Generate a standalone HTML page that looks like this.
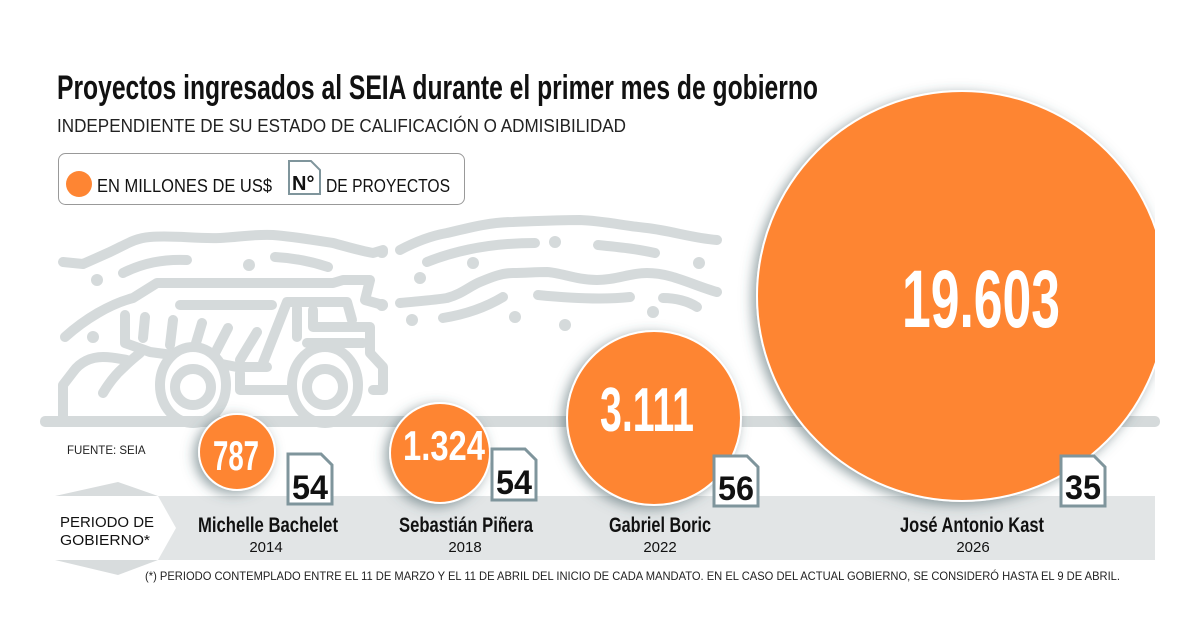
<!DOCTYPE html>
<html><head><meta charset="utf-8"><style>
body{margin:0;background:#fff}
svg{display:block}
.c{font-family:"Liberation Sans Narrow","Liberation Sans",sans-serif;font-weight:bold}
.s{font-family:"Liberation Sans",sans-serif}
</style></head><body>
<svg width="1200" height="632" viewBox="0 0 1200 632">
<defs>
<filter id="sh2" x="-30%" y="-30%" width="160%" height="160%"><feGaussianBlur in="SourceAlpha" stdDeviation="6" result="b"/><feOffset dx="-4" dy="3" in="b" result="o"/><feFlood flood-color="#3f5a60" flood-opacity="0.55"/><feComposite in2="o" operator="in"/><feMerge><feMergeNode/><feMergeNode in="SourceGraphic"/></feMerge></filter>
<clipPath id="cl"><rect x="0" y="0" width="1155" height="632"/></clipPath>
</defs>
<text x="57" y="99" class="c" font-size="34" fill="#111" textLength="761" lengthAdjust="spacingAndGlyphs">Proyectos ingresados al SEIA durante el primer mes de gobierno</text>
<text x="57" y="132" class="s" font-size="18" fill="#222" textLength="569" lengthAdjust="spacingAndGlyphs">INDEPENDIENTE DE SU ESTADO DE CALIFICACIÓN O ADMISIBILIDAD</text>
<rect x="58.5" y="153.5" width="406" height="51" rx="7" fill="#fff" stroke="#999"/>
<circle cx="79" cy="184" r="13" fill="#fe8533"/>
<text x="97" y="192" class="s" font-size="18" fill="#111" textLength="175" lengthAdjust="spacingAndGlyphs">EN MILLONES DE US$</text>
<path d="M289 161h22l9 9v24h-31z" fill="#fff" stroke="#7f959c" stroke-width="2"/>
<text x="292" y="190" class="s" font-weight="bold" font-size="20" fill="#111">N°</text>
<text x="326" y="192" class="s" font-size="18" fill="#111" textLength="124" lengthAdjust="spacingAndGlyphs">DE PROYECTOS</text>
<!-- background decor -->
<g fill="none" stroke="#d5dadb" stroke-width="10" stroke-linecap="round" stroke-linejoin="round">
<path d="M63 262l20 2 27-12c15-7 25-14 40-15 25-2 45 2 70 1 20-1 35-4 53-3 25 2 45 6 60 8 15 4 28 8 40 10l10-3"/>
<path d="M123 273c20-10 40-14 64-13"/>
<path d="M275 257c20 1 38 5 53 10"/>
<path d="M400 250c15-8 30-14 47-17 25-6 45-11 66-11 25-1 45-2 67-2 25 1 45 6 67 8 25 3 45 10 70 12"/>
<path d="M427 262c30-12 65-19 108-19"/>
<path d="M598 245c20 2 40 4 57 8"/>
<path d="M400 303c20-2 35-3 47-5 15-4 23-12 33-16 12-5 22-9 33-9 12 0 22-1 34-1 15 1 30 8 50 8 20 0 32-7 50-7 25 0 45 12 70 19"/>
<path d="M443 318c25-4 45-12 60-21"/>
<path d="M538 295c30 3 65 5 92 2"/>
<path d="M663 298c12 0 25 3 34 9"/>
<!-- truck -->
<path d="M65 337c20-18 45-33 68-39l24-15h176l10-3h27l-5 20 18 5"/>
<path d="M180 305h92"/>
<path d="M125 315v28l25 9 30 4 57 11h30"/>
<path d="M145 317l-2 21M173 320l-3 25M202 323l-9 30M228 328l-15 29M257 332l-17 28"/>
<path d="M263 363l24-61h60l5 18"/>
<path d="M297 308v29M313 310v17h57v26l13 14v23h-10"/>
<path d="M307 343h56"/>
<path d="M240 373v17h53"/>
<path d="M63 420v-35l10-13c7-10 18-15 30-15 10 0 18 2 24 3"/>
<path d="M103 393c6-10 12-18 20-25 6-6 12-11 17-15"/>
</g>
<g fill="#d5dadb">
<circle cx="97" cy="280" r="6"/><circle cx="249" cy="265" r="6"/><circle cx="93" cy="337" r="6"/>
<circle cx="382" cy="252" r="6"/><circle cx="420" cy="278" r="6"/><circle cx="473" cy="263" r="6"/><circle cx="555" cy="242" r="6"/><circle cx="699" cy="263" r="6"/>
<circle cx="382" cy="305" r="6"/><circle cx="412" cy="320" r="6"/><circle cx="515" cy="317" r="6"/><circle cx="565" cy="325" r="6"/><circle cx="653" cy="312" r="6"/>
</g>
<g fill="#fff" stroke="#d5dadb" stroke-width="10">
<ellipse cx="193" cy="385" rx="33" ry="38"/><ellipse cx="325" cy="385" rx="33" ry="38"/>
</g>
<g fill="#fff" stroke="#d5dadb" stroke-width="10"><circle cx="193" cy="387" r="18"/><circle cx="325" cy="387" r="18"/></g>
<rect x="40" y="416" width="1120" height="11" rx="5" fill="#d5dadb"/>
<!-- band -->
<rect x="55" y="496" width="1100" height="64" fill="#e2e5e6"/>
<polygon points="40,496 158,496 176,528 158,560 40,560" fill="#fff"/>
<polygon points="55,496 118,482 158,496" fill="#d8dcdd"/>
<polygon points="55,560 158,560 118,575" fill="#d8dcdd"/>
<text x="60" y="527" class="s" font-size="14.5" fill="#111" textLength="94" lengthAdjust="spacingAndGlyphs">PERIODO DE</text>
<text x="60" y="545" class="s" font-size="14.5" fill="#111" textLength="90" lengthAdjust="spacingAndGlyphs">GOBIERNO*</text>
<text x="67" y="454" class="s" font-size="11.5" fill="#222">FUENTE: SEIA</text>
<!-- circles -->
<g clip-path="url(#cl)">
<circle cx="962" cy="296" r="205" fill="#fe8533" stroke="#fff" stroke-width="2" filter="url(#sh2)"/>
</g>
<circle cx="654" cy="418" r="87" fill="#fe8533" stroke="#fff" stroke-width="2" filter="url(#sh2)"/>
<circle cx="440" cy="453" r="50" fill="#fe8533" stroke="#fff" stroke-width="2" filter="url(#sh2)"/>
<circle cx="237" cy="452" r="38" fill="#fe8533" stroke="#fff" stroke-width="2" filter="url(#sh2)"/>
<text x="981" y="327" text-anchor="middle" class="c" font-size="82" fill="#fff" textLength="158" lengthAdjust="spacingAndGlyphs">19.603</text>
<text x="647" y="431" text-anchor="middle" class="c" font-size="62" fill="#fff" textLength="94" lengthAdjust="spacingAndGlyphs">3.111</text>
<text x="444" y="460" text-anchor="middle" class="c" font-size="42" fill="#fff" textLength="82" lengthAdjust="spacingAndGlyphs">1.324</text>
<text x="236" y="470" text-anchor="middle" class="c" font-size="42" fill="#fff" textLength="46" lengthAdjust="spacingAndGlyphs">787</text>
<!-- docs -->
<g stroke="#7f959c" stroke-width="3" fill="#fff">
<path d="M288 454h33l11 11v39h-44z"/>
<path d="M492 449h33l11 11v40h-44z"/>
<path d="M714 456h33l11 11v39h-44z"/>
<path d="M1061 456h33l11 11v39h-44z"/>
</g>
<g class="s" font-size="34" fill="#111" text-anchor="middle" font-weight="bold">
<text x="310" y="499" textLength="36" lengthAdjust="spacingAndGlyphs">54</text><text x="514" y="494" textLength="36" lengthAdjust="spacingAndGlyphs">54</text><text x="736" y="500" textLength="36" lengthAdjust="spacingAndGlyphs">56</text><text x="1083" y="499" textLength="36" lengthAdjust="spacingAndGlyphs">35</text>
</g>
<!-- names -->
<g class="c" font-size="21" fill="#111" text-anchor="middle">
<text x="268" y="532" textLength="140" lengthAdjust="spacingAndGlyphs">Michelle Bachelet</text>
<text x="466" y="532" textLength="134" lengthAdjust="spacingAndGlyphs">Sebastián Piñera</text>
<text x="660" y="532" textLength="102" lengthAdjust="spacingAndGlyphs">Gabriel Boric</text>
<text x="972" y="532" textLength="144" lengthAdjust="spacingAndGlyphs">José Antonio Kast</text>
</g>
<g class="s" font-size="15" fill="#111" text-anchor="middle">
<text x="266" y="552">2014</text><text x="465" y="552">2018</text><text x="660" y="552">2022</text><text x="973" y="552">2026</text>
</g>
<text x="145" y="580" class="s" font-size="12" fill="#222" textLength="975" lengthAdjust="spacingAndGlyphs">(*)  PERIODO CONTEMPLADO ENTRE EL 11 DE MARZO Y EL 11 DE ABRIL DEL INICIO DE CADA MANDATO. EN EL CASO DEL ACTUAL GOBIERNO, SE CONSIDERÓ HASTA EL 9 DE ABRIL.</text>
</svg>
</body></html>
